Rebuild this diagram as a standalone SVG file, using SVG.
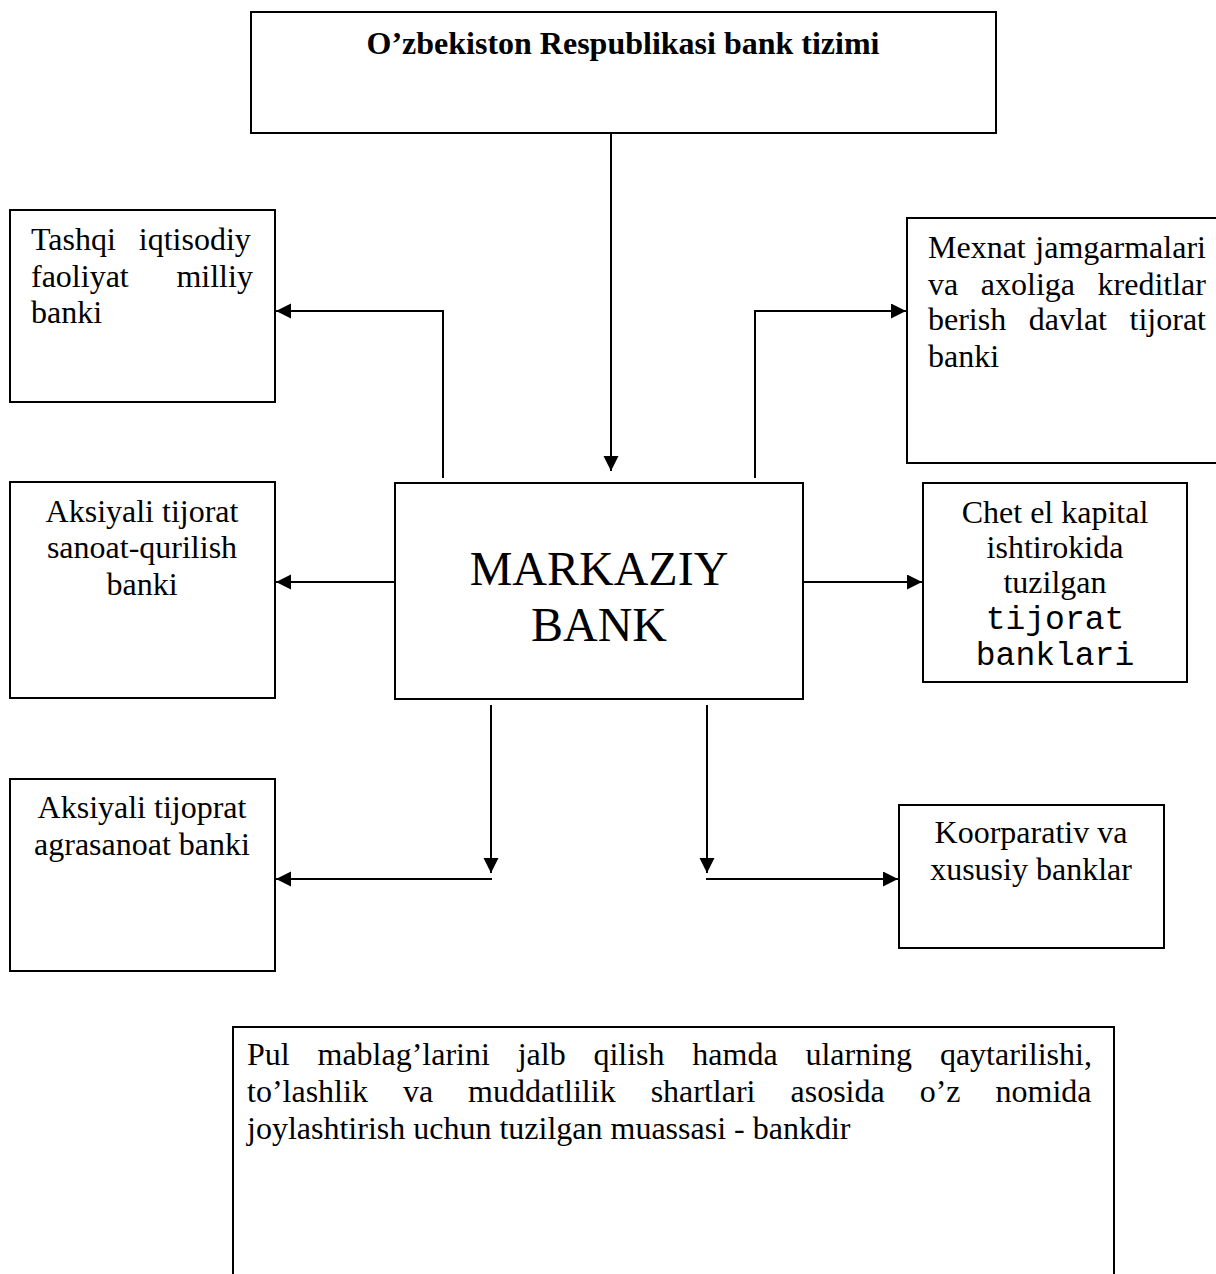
<svg xmlns="http://www.w3.org/2000/svg" width="1216" height="1274" viewBox="0 0 1216 1274">
<style>
.box{fill:#fff;stroke:#000;stroke-width:2}
.t{font-family:"Liberation Serif","Times New Roman",serif;font-size:32px;fill:#000}
.c{text-anchor:middle}
.big{font-size:48px}
.m{font-family:"Liberation Mono","Courier New",monospace;font-size:33px;fill:#000;text-anchor:middle}
.ln{fill:none;stroke:#000;stroke-width:2}
</style>
<defs>
<marker id="ah" markerUnits="userSpaceOnUse" markerWidth="16" markerHeight="16" refX="15" refY="7.5" orient="auto">
<path d="M0,0 L15,7.5 L0,15 z" fill="#000"/>
</marker>
</defs>
<rect width="1216" height="1274" fill="#fff"/>
<g id="connectors">
<line class="ln" x1="611" y1="133" x2="611" y2="471" marker-end="url(#ah)"/>
<polyline class="ln" points="443,478 443,311 276,311" marker-end="url(#ah)"/>
<polyline class="ln" points="755,478 755,311 906,311" marker-end="url(#ah)"/>
<line class="ln" x1="395" y1="582" x2="276" y2="582" marker-end="url(#ah)"/>
<line class="ln" x1="803" y1="582" x2="922" y2="582" marker-end="url(#ah)"/>
<line class="ln" x1="491" y1="705" x2="491" y2="873" marker-end="url(#ah)"/>
<line class="ln" x1="492" y1="879" x2="276" y2="879" marker-end="url(#ah)"/>
<line class="ln" x1="707" y1="705" x2="707" y2="873" marker-end="url(#ah)"/>
<line class="ln" x1="706" y1="879" x2="898" y2="879" marker-end="url(#ah)"/>
</g>
<g id="top">
<rect class="box" x="251" y="12" width="745" height="121"/>
<text class="t c" x="623" y="54" font-weight="bold">O’zbekiston Respublikasi bank tizimi</text>
</g>
<g id="tashqi">
<rect class="box" x="10" y="210" width="265" height="192"/>
<text class="t" x="31" y="250" word-spacing="14.9">Tashqi iqtisodiy</text>
<text class="t" x="31" y="287" word-spacing="39.7">faoliyat milliy</text>
<text class="t" x="31" y="323">banki</text>
</g>
<g id="mexnat">
<rect class="box" x="907" y="218" width="330" height="245"/>
<text class="t" x="928" y="258" word-spacing="1.6">Mexnat jamgarmalari</text>
<text class="t" x="928" y="295" word-spacing="14.6">va axoliga kreditlar</text>
<text class="t" x="928" y="330" word-spacing="14.6">berish davlat tijorat</text>
<text class="t" x="928" y="367">banki</text>
</g>
<g id="sanoat">
<rect class="box" x="10" y="482" width="265" height="216"/>
<text class="t c" x="142" y="522">Aksiyali tijorat</text>
<text class="t c" x="142" y="558">sanoat-qurilish</text>
<text class="t c" x="142" y="595">banki</text>
</g>
<g id="markaziy">
<rect class="box" x="395" y="483" width="408" height="216"/>
<text class="t c big" x="599" y="585">MARKAZIY</text>
<text class="t c big" x="599" y="641">BANK</text>
</g>
<g id="chet">
<rect class="box" x="923" y="483" width="264" height="199"/>
<text class="t c" x="1055" y="523">Chet el kapital</text>
<text class="t c" x="1055" y="558">ishtirokida</text>
<text class="t c" x="1055" y="593">tuzilgan</text>
<text class="m" x="1055" y="629">tijorat</text>
<text class="m" x="1055" y="665">banklari</text>
</g>
<g id="agrasanoat">
<rect class="box" x="10" y="779" width="265" height="192"/>
<text class="t c" x="142" y="818">Aksiyali tijoprat</text>
<text class="t c" x="142" y="855">agrasanoat banki</text>
</g>
<g id="koorparativ">
<rect class="box" x="899" y="805" width="265" height="143"/>
<text class="t c" x="1031" y="843">Koorparativ va</text>
<text class="t c" x="1031" y="880">xususiy banklar</text>
</g>
<g id="bankdir">
<rect class="box" x="233" y="1027" width="881" height="270"/>
<text class="t" x="247" y="1065" word-spacing="19.8">Pul mablag’larini jalb qilish hamda ularning qaytarilishi,</text>
<text class="t" x="247" y="1102" word-spacing="27">to’lashlik va muddatlilik shartlari asosida o’z nomida</text>
<text class="t" x="247" y="1139">joylashtirish uchun tuzilgan muassasi - bankdir</text>
</g>
</svg>
